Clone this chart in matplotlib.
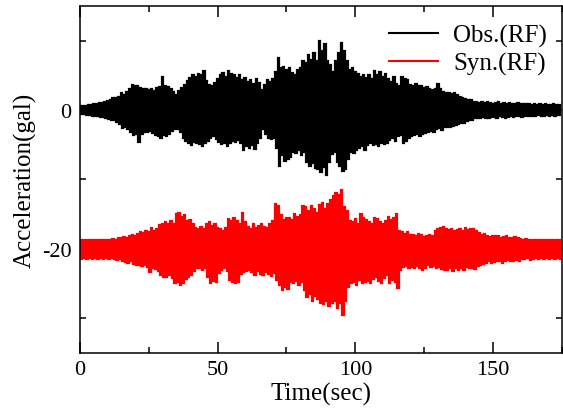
import numpy as np
import matplotlib
matplotlib.use("Agg")
import matplotlib.pyplot as plt

plt.rcParams['font.family'] = ['Liberation Serif', 'DejaVu Serif']
plt.rcParams['axes.unicode_minus'] = False

# time in seconds (1 s sampling of peak/trough readings)
time_sec = np.arange(0, 175)

# Observed (RF): positive peaks and negative troughs (gal)
obs_peak = [0.6, 0.6, 0.6, 0.7, 0.7, 0.8,
            0.9, 1.0, 1.0, 1.1, 1.3,
            1.5, 1.8, 1.7, 1.9, 2.4,
            2.2, 2.6, 3.0, 3.6, 3.4,
            3.5, 3.2, 3.1, 3.0, 2.9,
            3.0, 2.8, 3.2, 3.3, 4.7,
            3.4, 3.3, 3.0, 2.6, 2.2,
            2.8, 3.2, 3.6, 4.2, 4.6,
            5.0, 4.8, 5.2, 5.0, 5.6,
            4.2, 3.6, 3.4, 3.9, 4.5,
            5.0, 5.3, 4.8, 5.6, 5.2,
            5.0, 4.6, 5.0, 4.3, 4.6,
            4.0, 4.4, 3.8, 4.5, 3.9,
            2.9, 3.6, 4.3, 4.0, 4.5,
            5.5, 7.5, 6.0, 6.2, 5.8,
            6.0, 5.4, 5.0, 5.8, 6.0,
            7.0, 6.8, 8.0, 7.2, 8.2,
            7.0, 9.9, 8.5, 9.5, 7.0,
            6.5, 5.5, 7.0, 8.2, 9.6,
            8.5, 7.0, 5.8, 6.0, 5.5,
            5.2, 4.8, 5.0, 4.6, 5.0,
            4.5, 5.6, 5.0, 5.5, 4.8,
            5.2, 4.5, 4.0, 4.8, 3.8,
            3.4, 4.7, 4.5, 4.3, 3.6,
            3.5, 3.8, 3.4, 3.5, 3.2,
            3.3, 3.0, 2.9, 3.1, 3.8,
            3.0, 2.6, 2.4, 2.5, 2.3,
            2.4, 2.1, 1.9, 1.7, 1.6,
            1.5, 1.4, 1.2, 1.1, 1.0,
            1.1, 1.0, 1.2, 1.0, 0.9,
            1.0, 1.1, 0.9, 1.0, 0.9,
            1.0, 0.8, 0.9, 1.0, 0.9,
            0.8, 0.9, 0.8, 0.7, 0.8,
            0.7, 0.8, 0.7, 0.8, 0.7,
            0.7, 0.8, 0.7, 0.7]
obs_trough = [-0.6, -0.6, -0.7, -0.7, -0.8, -0.8,
              -0.9, -1.0, -1.0, -1.2, -1.3,
              -1.4, -1.5, -1.7, -2.0, -2.6,
              -2.4, -2.8, -3.2, -3.6, -3.4,
              -4.6, -3.5, -3.2, -3.1, -3.0,
              -3.3, -3.6, -3.8, -4.1, -3.6,
              -3.8, -3.4, -3.0, -2.8, -2.7,
              -3.2, -4.0, -4.5, -4.8, -5.0,
              -4.6, -4.8, -4.9, -5.2, -4.8,
              -4.5, -4.0, -3.8, -4.2, -4.6,
              -4.9, -4.7, -5.2, -4.8, -4.5,
              -4.6, -4.3, -4.8, -5.8, -5.2,
              -5.5, -5.0, -5.6, -4.8, -4.0,
              -2.8, -3.5, -4.0, -4.2, -4.0,
              -5.5, -8.0, -6.5, -7.3, -7.0,
              -6.8, -6.0, -6.2, -5.8, -6.5,
              -6.0, -7.5, -8.0, -7.6, -8.3,
              -8.5, -9.0, -8.2, -9.3, -7.5,
              -6.3, -6.0, -7.5, -8.0, -8.8,
              -8.5, -7.0, -6.0, -6.2, -5.8,
              -5.5, -5.2, -5.8, -5.0, -4.8,
              -5.0, -4.9, -5.2, -4.8, -4.9,
              -4.8, -4.3, -4.0, -4.4, -3.8,
              -3.6, -4.8, -4.4, -4.0, -3.8,
              -3.6, -3.5, -3.8, -3.4, -3.3,
              -3.2, -3.0, -3.1, -2.8, -2.6,
              -2.9, -2.5, -2.4, -2.5, -2.3,
              -2.2, -2.0, -1.9, -1.8, -1.6,
              -1.5, -1.4, -1.2, -1.1, -1.1,
              -1.0, -1.1, -1.2, -1.0, -1.0,
              -1.1, -0.9, -1.0, -1.1, -1.0,
              -0.9, -1.0, -0.9, -0.9, -1.0,
              -0.8, -0.9, -0.8, -0.8, -0.8,
              -0.7, -0.8, -0.8, -0.7, -0.8,
              -0.7, -0.8, -0.7, -0.7]

# Synthetic (RF): plotted with an offset of -20 gal
syn_offset = -20.0
syn_peak = [1.2, 1.3, 1.2, 1.2, 1.3, 1.2,
            1.3, 1.2, 1.3, 1.2, 1.3,
            1.3, 1.4, 1.3, 1.5, 1.6,
            1.7, 1.6, 1.8, 2.0, 1.9,
            2.2, 2.4, 2.3, 2.5, 2.4,
            3.0, 2.6, 2.9, 3.4, 3.6,
            3.8, 3.5, 4.0, 3.6, 5.0,
            5.2, 4.6, 4.8, 4.0, 4.2,
            3.6, 3.0, 2.9, 3.2, 2.8,
            3.5, 3.8, 3.3, 3.6, 3.0,
            2.8, 2.6, 3.0, 4.3, 4.0,
            4.4, 4.0, 3.6, 5.2, 3.8,
            3.2, 2.8, 3.6, 3.0, 3.3,
            3.6, 3.2, 3.0, 3.5, 4.0,
            6.4, 6.2, 4.8, 4.2, 4.5,
            4.5, 4.2, 5.0, 4.6, 4.8,
            6.2, 6.0, 5.5, 6.2, 5.8,
            5.2, 6.3, 6.6, 5.8, 6.5,
            7.0, 7.6, 8.0, 7.8, 8.5,
            6.0, 5.4, 4.0, 3.8, 4.3,
            3.5, 5.0, 4.5, 4.2, 3.8,
            3.5, 4.5, 4.3, 3.8, 3.6,
            4.0, 4.6, 4.2, 4.4, 5.0,
            2.6, 2.4, 2.2, 2.4, 2.0,
            2.0, 1.8, 2.2, 2.0, 1.7,
            1.8, 2.0, 1.9, 2.5, 2.9,
            3.0, 3.1, 2.8, 2.7, 2.9,
            2.5, 2.7, 2.8, 2.6, 3.0,
            2.7, 2.9, 2.8, 2.5, 2.3,
            2.0, 2.2, 1.8, 1.7, 1.9,
            1.8, 1.9, 1.6, 1.7, 1.8,
            1.6, 1.5, 1.7, 1.5, 1.4,
            1.3, 1.4, 1.3, 1.2, 1.3,
            1.3, 1.2, 1.3, 1.2, 1.3,
            1.2, 1.3, 1.2, 1.3]
syn_trough = [-1.5, -1.4, -1.5, -1.4, -1.5, -1.4,
              -1.5, -1.4, -1.5, -1.4, -1.5,
              -1.4, -1.5, -1.6, -1.5, -1.7,
              -1.9, -2.0, -1.8, -2.2, -2.4,
              -2.3, -2.5, -2.4, -2.6, -3.3,
              -2.8, -2.9, -3.2, -3.8, -4.0,
              -4.1, -3.8, -4.2, -5.0, -4.8,
              -5.2, -5.0, -4.4, -4.0, -3.8,
              -3.2, -2.8, -2.7, -3.0, -2.8,
              -4.0, -5.0, -4.6, -4.8, -3.5,
              -3.0, -2.8, -3.2, -4.5, -4.8,
              -5.0, -4.8, -3.6, -3.4, -3.2,
              -3.0, -3.4, -3.8, -3.2, -3.6,
              -3.8, -3.4, -3.6, -3.9, -3.5,
              -4.5, -5.2, -6.0, -5.5, -5.8,
              -4.8, -5.0, -4.6, -5.2, -4.8,
              -6.0, -7.0, -6.5, -7.5, -6.8,
              -7.2, -7.8, -8.0, -7.5, -8.2,
              -7.8, -7.5, -8.5, -7.8, -9.5,
              -7.5, -5.5, -5.0, -4.8, -5.2,
              -4.5, -5.0, -4.8, -4.6, -5.0,
              -4.3, -4.0, -4.6, -5.0, -4.2,
              -3.8, -5.0, -4.5, -4.8, -5.7,
              -3.0, -2.6, -2.5, -2.8, -2.6,
              -2.8, -2.5, -2.7, -3.0, -2.8,
              -2.4, -2.6, -2.5, -2.8, -2.6,
              -2.9, -3.1, -3.0, -2.8, -3.2,
              -2.7, -3.0, -2.8, -3.1, -2.6,
              -2.8, -2.7, -2.9, -2.5, -2.4,
              -2.2, -2.0, -1.8, -2.0, -1.9,
              -1.8, -1.7, -2.0, -1.8, -1.6,
              -1.7, -1.8, -1.6, -1.7, -1.5,
              -1.5, -1.4, -1.6, -1.5, -1.4,
              -1.5, -1.4, -1.5, -1.4, -1.5,
              -1.4, -1.5, -1.4, -1.5]

x_ticks = [0, 50, 100, 150]
y_ticks = [0, -20]
series_labels = ['Obs.(RF)', 'Syn.(RF)']
series_colors = ['black', 'red']


def zigzag(t, peaks, troughs, offset=0.0):
    t = np.asarray(t, float)
    tt = np.empty(2 * len(t))
    yy = np.empty(2 * len(t))
    tt[0::2] = t
    tt[1::2] = t + 0.5
    yy[0::2] = np.asarray(peaks) + offset
    yy[1::2] = np.asarray(troughs) + offset
    return tt, yy


fig = plt.figure(figsize=(5.63, 4.10), dpi=100)
ax = fig.add_axes([0.142, 0.137, 0.856, 0.846])

t1, y1 = zigzag(time_sec, obs_peak, obs_trough)
t2, y2 = zigzag(time_sec, syn_peak, syn_trough, syn_offset)
ax.plot(t1, y1, color=series_colors[0], lw=1.6, drawstyle='steps-mid',
        solid_joinstyle='miter', label=series_labels[0])
ax.plot(t2, y2, color=series_colors[1], lw=1.6, drawstyle='steps-mid',
        solid_joinstyle='miter', label=series_labels[1])

ax.set_xlim(0, 174.3)
ax.set_ylim(-35, 15)
ax.set_xticks(x_ticks)
ax.set_xticks([25, 75, 125, 175], minor=True)
ax.set_yticks(y_ticks)
ax.set_yticks([10, -10, -30], minor=True)
ax.tick_params(which='both', direction='in', top=True, right=True, width=1.1, labelsize=16)
ax.tick_params(which='major', length=8)
ax.tick_params(which='minor', length=4.5)
ax.tick_params(axis='y', pad=6)
ax.tick_params(axis='x', pad=5)
for s in ax.spines.values():
    s.set_linewidth(1.1)

ax.set_xlabel('Time(sec)', fontsize=18, labelpad=2)
ax.set_ylabel('Acceleration(gal)', fontsize=18, labelpad=4)

leg = ax.legend(loc='upper right', frameon=False, fontsize=18, handlelength=1.95,
                handletextpad=0.6, labelspacing=0.2, borderaxespad=0.0,
                bbox_to_anchor=(0.99, 0.976))
for h in leg.get_lines():
    h.set_linewidth(1.5)

fig.savefig('out.png', dpi=100)
